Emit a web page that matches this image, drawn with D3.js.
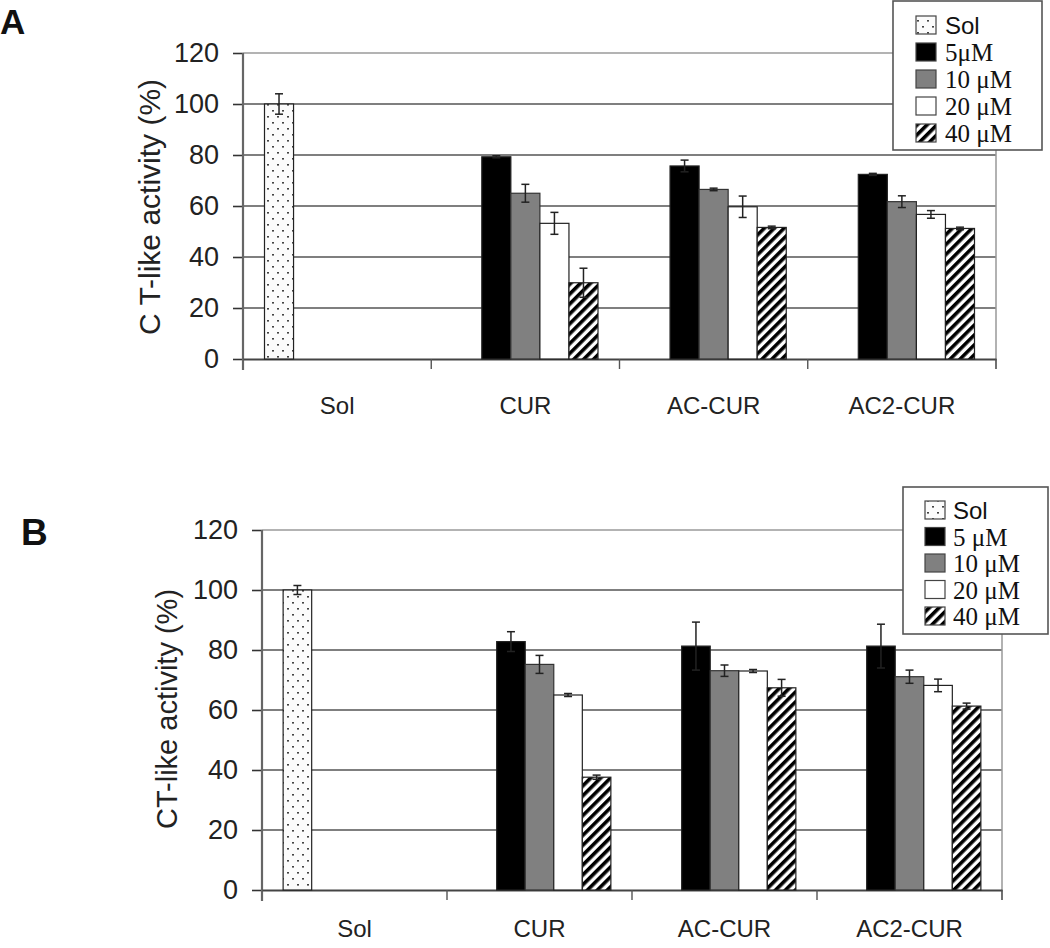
<!DOCTYPE html>
<html><head><meta charset="utf-8">
<script src="https://cdn.jsdelivr.net/npm/d3@7"></script>
<style>body{margin:0;background:#fff} svg{display:block}</style>
</head><body>
<script>
// ---------- data ----------
const categories = ["Sol", "CUR", "AC-CUR", "AC2-CUR"];
const seriesKeys = ["sol", "c5", "c10", "c20", "c40"];
const legendLabelsA = ["Sol", "5μM", "10 μM", "20 μM", "40 μM"];
const legendLabelsB = ["Sol", "5 μM", "10 μM", "20 μM", "40 μM"];
const yTicks = [0, 20, 40, 60, 80, 100, 120];

// Panel A: values per series across categories (null = no bar)
const solA = [100, null, null, null];
const c5A  = [null, 79.3, 75.7, 72.4];
const c10A = [null, 65.0, 66.5, 61.7];
const c20A = [null, 53.2, 59.7, 56.7];
const c40A = [null, 29.9, 51.6, 51.2];
const solErrA = [4, 0, 0, 0];
const c5ErrA  = [0, 0.4, 2.3, 0.4];
const c10ErrA = [0, 3.5, 0.5, 2.3];
const c20ErrA = [0, 4.3, 4.2, 1.5];
const c40ErrA = [0, 5.7, 0.5, 0.5];

// Panel B
const solB = [100, null, null, null];
const c5B  = [null, 82.8, 81.3, 81.3];
const c10B = [null, 75.2, 73.1, 71.1];
const c20B = [null, 65.0, 73.0, 68.2];
const c40B = [null, 37.6, 67.4, 61.3];
const solErrB = [1.5, 0, 0, 0];
const c5ErrB  = [0, 3.3, 8.0, 7.3];
const c10ErrB = [0, 3.0, 1.9, 2.2];
const c20ErrB = [0, 0.5, 0.5, 2.1];
const c40ErrB = [0, 0.7, 2.8, 1.0];

// ---------- drawing ----------
const W = 1050, H = 948;
const svg = d3.select("body").append("svg").attr("width", W).attr("height", H);
const defs = svg.append("defs");

// dotted pattern (Sol)
const dots = defs.append("pattern").attr("id", "dots").attr("patternUnits", "userSpaceOnUse")
  .attr("width", 10).attr("height", 12);
dots.append("rect").attr("width", 10).attr("height", 12).attr("fill", "#fbfbfb");
dots.append("rect").attr("x", 2).attr("y", 2).attr("width", 2).attr("height", 1.6).attr("fill", "#444");
dots.append("rect").attr("x", 7).attr("y", 8).attr("width", 2).attr("height", 1.6).attr("fill", "#444");

// hatch pattern (40 µM)
const hatch = defs.append("pattern").attr("id", "hatch").attr("patternUnits", "userSpaceOnUse")
  .attr("width", 7).attr("height", 7).attr("patternTransform", "rotate(45)");
hatch.append("rect").attr("width", 7).attr("height", 7).attr("fill", "#fff");
hatch.append("rect").attr("width", 3.6).attr("height", 7).attr("fill", "#000");

const fills = {sol: "url(#dots)", c5: "#000", c10: "#808080", c20: "#fff", c40: "url(#hatch)"};
const SANS = "Liberation Sans, Arial, sans-serif";
const SERIF = "Liberation Serif, Times New Roman, serif";

function panel(cfg) {
  const g = svg.append("g");
  const x0 = d3.scaleBand().domain(categories).range([cfg.left, cfg.right]).paddingInner(0).paddingOuter(0);
  const x1 = d3.scaleBand().domain(seriesKeys).range([0, x0.bandwidth()]).paddingInner(0).paddingOuter(0.74);
  const y = d3.scaleLinear().domain([0, 120]).range([cfg.bottom, cfg.top]);

  // gridlines
  g.selectAll(".grid").data(yTicks.filter(t => t > 0)).join("line")
    .attr("x1", cfg.left).attr("x2", cfg.right)
    .attr("y1", d => y(d)).attr("y2", d => y(d))
    .attr("stroke", d => d === 120 ? "#9a9a9a" : "#555").attr("stroke-width", 1.6);
  // right border
  g.append("line").attr("x1", cfg.right).attr("x2", cfg.right).attr("y1", y(120)).attr("y2", y(0) + 10)
    .attr("stroke", "#999").attr("stroke-width", 1.5);

  // y axis
  const yAxis = d3.axisLeft(y).tickValues(yTicks).tickSize(10).tickPadding(14);
  const ya = g.append("g").attr("transform", `translate(${cfg.left},0)`).call(yAxis);
  ya.select(".domain").remove();
  ya.selectAll(".tick line").attr("stroke", "#333").attr("stroke-width", 1.6);
  ya.selectAll(".tick text").attr("font-family", SANS)
    .attr("font-size", cfg.tickFont).attr("fill", "#222");
  g.append("line").attr("x1", cfg.left).attr("x2", cfg.left).attr("y1", y(120)).attr("y2", y(0) + 11)
    .attr("stroke", "#666").attr("stroke-width", 2.2);

  // x axis
  const xa = g.append("g").attr("transform", `translate(0,${y(0)})`)
    .call(d3.axisBottom(x0).tickSize(0).tickPadding(cfg.catPad));
  xa.select(".domain").attr("stroke", "#444").attr("stroke-width", 1.8);
  xa.selectAll(".tick text").attr("font-family", SANS)
    .attr("font-size", cfg.catFont).attr("fill", "#222");
  const bounds = categories.map(c => x0(c)).concat([cfg.right]);
  g.selectAll(".xtick").data(bounds.slice(1)).join("line")
    .attr("x1", d => d).attr("x2", d => d).attr("y1", y(0)).attr("y2", y(0) + 10)
    .attr("stroke", "#555").attr("stroke-width", 1.4);

  // bars
  const series = cfg.series;
  seriesKeys.forEach((k) => {
    const vals = series[k].v, errs = series[k].e;
    const data = categories.map((c, i) => ({c, v: vals[i], e: errs[i]})).filter(d => d.v !== null);
    g.selectAll(".bar-" + k).data(data).join("rect")
      .attr("x", d => x0(d.c) + x1(k)).attr("width", x1.bandwidth())
      .attr("y", d => y(d.v)).attr("height", d => y(0) - y(d.v))
      .attr("fill", fills[k]).attr("stroke", k === "c10" ? "#333" : "#222").attr("stroke-width", 1.2);
    const eg = g.selectAll(".err-" + k).data(data.filter(d => d.e > 0)).join("g");
    const cx = d => x0(d.c) + x1(k) + x1.bandwidth() / 2;
    eg.append("line").attr("x1", cx).attr("x2", cx).attr("y1", d => y(d.v + d.e)).attr("y2", d => y(d.v - d.e))
      .attr("stroke", "#222").attr("stroke-width", 1.5);
    eg.append("line").attr("x1", d => cx(d) - 4).attr("x2", d => cx(d) + 4)
      .attr("y1", d => y(d.v + d.e)).attr("y2", d => y(d.v + d.e)).attr("stroke", "#222").attr("stroke-width", 1.5);
    eg.append("line").attr("x1", d => cx(d) - 4).attr("x2", d => cx(d) + 4)
      .attr("y1", d => y(d.v - d.e)).attr("y2", d => y(d.v - d.e)).attr("stroke", "#222").attr("stroke-width", 1.5);
  });

  // y title
  g.append("text").attr("transform", `translate(${cfg.titleX},${cfg.titleY}) rotate(-90)`)
    .attr("text-anchor", "middle").attr("dominant-baseline", "central")
    .attr("font-family", SANS).attr("font-size", cfg.titleFont).attr("fill", "#222")
    .text(cfg.title);

  // panel letter
  g.append("text").attr("x", cfg.letterX).attr("y", cfg.letterY)
    .attr("font-family", SANS).attr("font-weight", "bold")
    .attr("font-size", cfg.letterFont).attr("fill", "#111").text(cfg.letter);

  // legend
  const L = cfg.legend;
  const lg = g.append("g");
  lg.append("rect").attr("x", L.x).attr("y", L.y).attr("width", L.w).attr("height", L.h)
    .attr("fill", "#fff").attr("stroke", "#555").attr("stroke-width", 1.6);
  seriesKeys.forEach((k, i) => {
    const cy = L.y + L.first + i * L.step;
    lg.append("rect").attr("x", L.sx).attr("y", cy - 9).attr("width", 20).attr("height", 18)
      .attr("fill", fills[k]).attr("stroke", "#444").attr("stroke-width", 1.2);
    lg.append("text").attr("x", L.tx).attr("y", cy).attr("dy", "0.36em")
      .attr("font-family", i === 0 ? SANS : SERIF)
      .attr("font-size", i === 0 ? 24 : 25).attr("fill", "#111").text(cfg.legendLabels[i]);
  });
}

panel({
  left: 243, right: 996, top: 53, bottom: 359,
  tickFont: 27, catFont: 24, catPad: 38, titleFont: 30, titleX: 149, titleY: 207,
  title: "C T-like activity (%)", letter: "A", letterX: 0, letterY: 34, letterFont: 35,
  legendLabels: legendLabelsA,
  legend: {x: 893, y: 1, w: 149, h: 149, first: 24, step: 27, sx: 916, tx: 945},
  series: {sol: {v: solA, e: solErrA}, c5: {v: c5A, e: c5ErrA}, c10: {v: c10A, e: c10ErrA},
           c20: {v: c20A, e: c20ErrA}, c40: {v: c40A, e: c40ErrA}}
});

panel({
  left: 262, right: 1002, top: 530, bottom: 890,
  tickFont: 27, catFont: 24, catPad: 30, titleFont: 29, titleX: 167, titleY: 709,
  title: "CT-like activity (%)", letter: "B", letterX: 21, letterY: 545, letterFont: 37,
  legendLabels: legendLabelsB,
  legend: {x: 903, y: 487, w: 145, h: 147, first: 23, step: 26.5, sx: 925, tx: 953},
  series: {sol: {v: solB, e: solErrB}, c5: {v: c5B, e: c5ErrB}, c10: {v: c10B, e: c10ErrB},
           c20: {v: c20B, e: c20ErrB}, c40: {v: c40B, e: c40ErrB}}
});
</script>
</body></html>
